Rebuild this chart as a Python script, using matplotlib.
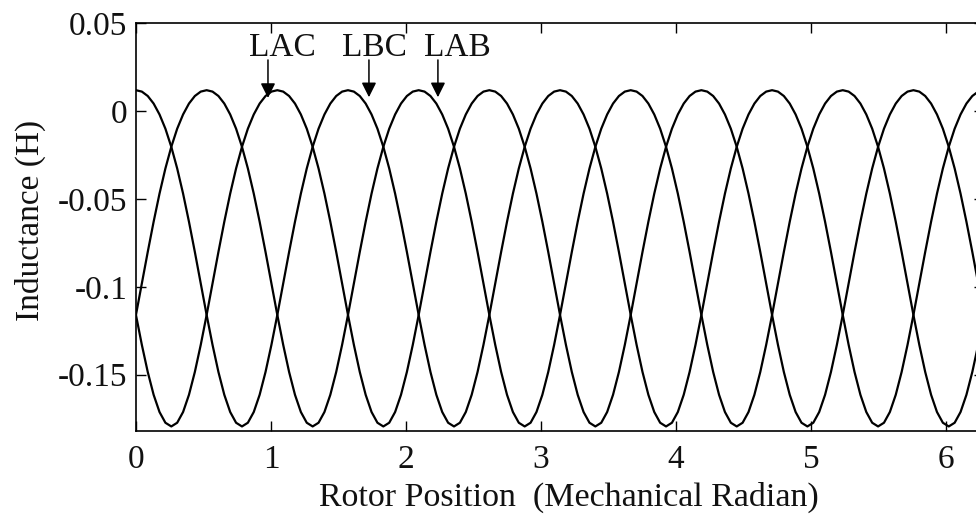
import numpy as np
import matplotlib
matplotlib.use("Agg")
import matplotlib.pyplot as plt

plt.rcParams["font.family"] = ["Liberation Serif", "DejaVu Serif"]
plt.rcParams["axes.unicode_minus"] = False

# one electrical period of the mutual inductance (H), sampled every 10 deg
period_samples = [
    0.0118, 0.0110, 0.0085, 0.0042, -0.0020, -0.0101,
    -0.0204, -0.0327, -0.0470, -0.0630, -0.0802, -0.0981,
    -0.1160, -0.1330, -0.1484, -0.1614, -0.1712, -0.1773,
    -0.1794, -0.1773, -0.1712, -0.1614, -0.1484, -0.1330,
    -0.1160, -0.0981, -0.0802, -0.0630, -0.0470, -0.0327,
    -0.0204, -0.0101, -0.0020, 0.0042, 0.0085, 0.0110,
]
periods = 4                       # electrical periods per mechanical revolution
phase_shift = {"LBC": 0, "LAB": 24, "LAC": 12}   # samples (10 deg each)

xticks = [0, 1, 2, 3, 4, 5, 6]
yticks = [-0.15, -0.1, -0.05, 0, 0.05]
ytick_labels = ["-0.15", "-0.1", "-0.05", "0", "0.05"]

# arrow tips (position, inductance) for the curve labels
labels = ["LAC", "LBC", "LAB"]
arrow_x = [0.978, 1.726, 2.237]
arrow_y = [0.0074, 0.0078, 0.0078]
text_x = [1.081, 1.770, 2.378]

n = len(period_samples) * periods
theta = np.arange(n + 1) * (2 * np.pi / n)

fig = plt.figure(figsize=(9.76, 5.16), dpi=100)
ax = fig.add_axes([0.1393, 0.1647, 0.869, 0.7907])

for name, shift in phase_shift.items():
    wave = np.roll(np.array(period_samples), -shift)
    y = np.tile(wave, periods)
    y = np.append(y, y[0])
    ax.plot(theta, y, color="black", lw=1.6)

for lab, ax_, ay_, tx in zip(labels, arrow_x, arrow_y, text_x):
    ax.annotate("", xy=(ax_, ay_), xytext=(ax_, 0.029),
                arrowprops=dict(arrowstyle="-|>", color="black", lw=1.1,
                                mutation_scale=22, shrinkA=0, shrinkB=0))
    ax.text(tx, 0.0362, lab, ha="center", va="center", fontsize=24, color="#111")

ax.set_xlim(0, 2 * np.pi)
ax.set_ylim(-0.182, 0.05)
ax.set_xticks(xticks)
ax.set_yticks(yticks)
ax.set_yticklabels(ytick_labels)
ax.tick_params(direction="in", length=7, width=1.0, labelsize=24,
               top=True, right=True, colors="black", labelcolor="#111")
ax.tick_params(axis="x", pad=10)
ax.tick_params(axis="y", pad=6)
for s in ax.spines.values():
    s.set_linewidth(1.2)

ax.set_xlabel("Rotor Position  (Mechanical Radian)", fontsize=24.5, color="#111")
ax.xaxis.set_label_coords(0.511, -0.125)
ax.set_ylabel("Inductance (H)", fontsize=24, color="#111")
ax.yaxis.set_label_coords(-0.106, 0.517)

fig.savefig("out.png", dpi=100)
